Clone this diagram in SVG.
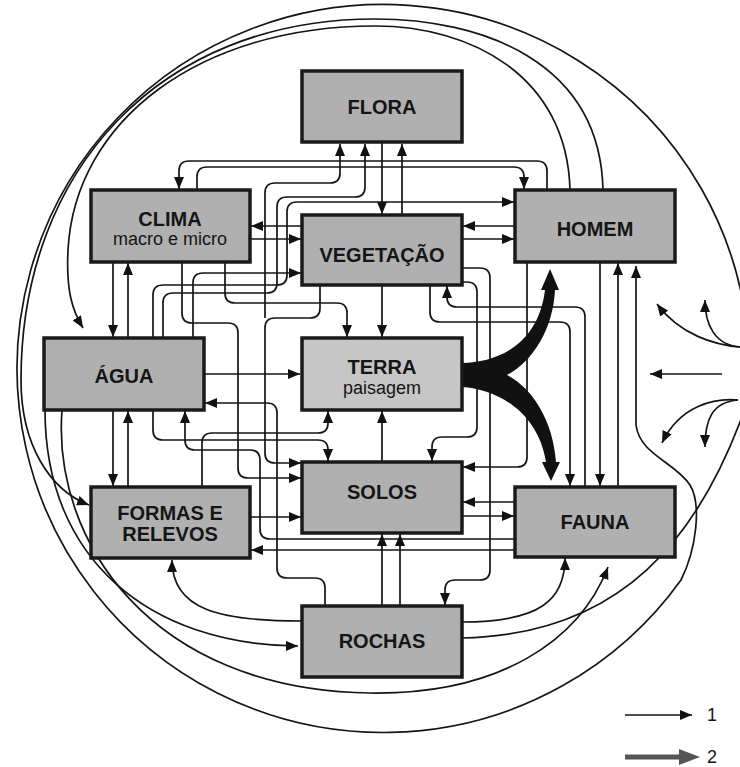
<svg xmlns="http://www.w3.org/2000/svg" width="740" height="767" viewBox="0 0 740 767">
<defs>
<marker id="a" viewBox="0 0 12 10" refX="12" refY="5" markerWidth="12" markerHeight="10" markerUnits="userSpaceOnUse" orient="auto"><path d="M0,0 L12,5 L0,10 z" fill="#111"/></marker>
</defs>
<style>
.box{fill:#b0b0b0;stroke:#1a1a1a;stroke-width:3.5}
.light{fill:#c6c6c6}
.t{font-family:"Liberation Sans",Arial,sans-serif;font-weight:bold;font-size:20px;fill:#151515;text-anchor:middle}
.s{font-family:"Liberation Sans",Arial,sans-serif;font-size:18px;fill:#151515;text-anchor:middle}
.c path{fill:none;stroke:#151515;stroke-width:1.7}
.c path.m{marker-end:url(#a)}
.c path.thick{fill:#111;stroke:none}
</style>
<rect width="740" height="767" fill="#fff"/>

<g id="connectors" class="c">
<!-- outer ring -->
<path d="M748,340 A366,364 0 1 0 681,580 C696,550 702,505 690,485 C675,462 640,455 636,425 V266" class="m"/>
<path d="M603,190 C600,60 480,19 375,19 C160,19 21,170 21,380 C21,445 50,490 89,505" class="m"/>
<path d="M570,190 C567,75 470,26 375,26 C200,26 75,120 68,250 C66,290 72,310 83,328" class="m"/>
<path d="M462,638 C620,635 700,540 748,400"/>
<!-- right side inward -->
<path d="M740,347 C715,345 680,335 657,304" class="m"/>
<path d="M740,347 C715,345 705,325 705,300" class="m"/>
<path d="M722,374 H650" class="m"/>
<path d="M738,400 C715,398 680,405 662,443" class="m"/>
<path d="M738,400 C712,402 705,420 705,447" class="m"/>
<!-- top -->
<path d="M382,143 V214" class="m"/>
<path d="M402,215 V144" class="m"/>
<path d="M547,190 V171 Q547,161 537,161 H189 Q179,161 179,171 V189" class="m"/>
<path d="M197,190 V177 Q197,167 207,167 H514 Q524,167 524,177 V189" class="m"/>
<path d="M265,318 V193 Q265,183 275,183 H330 Q340,183 340,173 V144" class="m"/>
<path d="M163,338 V303 Q163,293 173,293 H267 Q277,293 277,283 V207 Q277,197 287,197 H355 Q365,197 365,187 V144" class="m"/>
<path d="M153,338 V295 Q153,285 163,285 H277 Q287,285 287,275 V212 Q287,202 297,202 H514" class="m"/>
<path d="M302,226 H251" class="m"/>
<path d="M250,239 H301" class="m"/>
<path d="M515,226 H463" class="m"/>
<path d="M462,239 H514" class="m"/>
<path d="M193,338 V283 Q193,273 203,273 H301" class="m"/>
<!-- left column -->
<path d="M113,262 V337" class="m"/>
<path d="M128,338 V263" class="m"/>
<path d="M113,410 V486" class="m"/>
<path d="M128,487 V411" class="m"/>
<!-- middle -->
<path d="M182,262 V313 Q182,323 192,323 H228 Q238,323 238,333 V468 Q238,478 248,478 H301" class="m"/>
<path d="M225,262 V293 Q225,303 235,303 H337 Q347,303 347,313 V337" class="m"/>
<path d="M382,285 V337" class="m"/>
<path d="M320,285 V308 Q320,318 310,318 H275 Q265,318 265,328 V453 Q265,463 275,463 H301" class="m"/>
<path d="M204,374 H300" class="m"/>
<path d="M325,606 V588 Q325,578 315,578 H287 Q277,578 277,568 V413 Q277,403 267,403 H205" class="m"/>
<path d="M202,487 V443 Q202,433 212,433 H318 Q328,433 328,423 V411" class="m"/>
<path d="M153,410 V430 Q153,440 163,440 H318 Q328,440 328,450 V461" class="m"/>
<path d="M515,539 H270 Q260,539 260,529 V460 Q260,450 250,450 H195 Q185,450 185,440 V411" class="m"/>
<path d="M515,550 H251" class="m"/>
<path d="M250,517 H301" class="m"/>
<path d="M515,502 H463" class="m"/>
<path d="M462,516 H514" class="m"/>
<path d="M382,462 V411" class="m"/>
<path d="M382,606 V534" class="m"/>
<path d="M400,606 V534" class="m"/>
<!-- right middle -->
<path d="M462,268 H480 Q490,268 490,278 V570 Q490,580 480,580 H455 Q445,580 445,590 V605" class="m"/>
<path d="M462,282 H467 Q477,282 477,292 V427 Q477,437 467,437 H442 Q432,437 432,447 V461" class="m"/>
<path d="M430,285 V312 Q430,322 440,322 H560 Q570,322 570,332 V486" class="m"/>
<path d="M585,487 V317 Q585,307 575,307 H457 Q447,307 447,297 V286" class="m"/>
<path d="M600,262 V486" class="m"/>
<path d="M618,487 V263" class="m"/>
<path d="M527,262 V457 Q527,467 517,467 H463" class="m"/>
<!-- bottom -->
<path d="M302,621 C220,621 172,610 172,560" class="m"/>
<path d="M462,622 C540,622 565,600 565,558" class="m"/>
<path d="M45,410 C45,560 150,645 298,646" class="m"/>
<path d="M62,410 C52,540 150,690 370,693 C500,695 580,640 608,567" class="m"/>
<!-- thick arrows from TERRA -->
<path class="thick" d="M462,363 C498,362 538,345 545,290 L541,290 L550,269 L559,290 L555,290 C553,330 532,362 507,375 C532,388 553,420 556,462 L560,462 L551,481 L542,462 L546,462 C538,412 497,389 462,387 Z"/>
</g>

<g id="flora"><rect class="box" x="302" y="71" width="160" height="71"/><text class="t" x="382" y="114">FLORA</text></g>
<g id="clima"><rect class="box" x="91" y="190" width="159" height="72"/><text class="t" x="170" y="226">CLIMA</text><text class="s" x="170" y="245">macro e micro</text></g>
<g id="vegetacao"><rect class="box" x="302" y="215" width="160" height="70"/><text class="t" x="382" y="262">VEGETAÇÃO</text></g>
<g id="homem"><rect class="box" x="515" y="190" width="160" height="72"/><text class="t" x="595" y="236">HOMEM</text></g>
<g id="agua"><rect class="box" x="44" y="338" width="160" height="72"/><text class="t" x="124" y="383">ÁGUA</text></g>
<g id="terra"><rect class="box light" x="302" y="338" width="160" height="72"/><text class="t" x="382" y="374">TERRA</text><text class="s" x="382" y="394">paisagem</text></g>
<g id="solos"><rect class="box" x="302" y="462" width="160" height="71"/><text class="t" x="382" y="499">SOLOS</text></g>
<g id="formas"><rect class="box" x="91" y="487" width="159" height="71"/><text class="t" x="170" y="520">FORMAS E</text><text class="t" x="170" y="541">RELEVOS</text></g>
<g id="fauna"><rect class="box" x="515" y="487" width="160" height="70"/><text class="t" x="595" y="529">FAUNA</text></g>
<g id="rochas"><rect class="box" x="302" y="606" width="160" height="71"/><text class="t" x="382" y="648">ROCHAS</text></g>

<g id="legend">
<path d="M625,715 H692" fill="none" stroke="#151515" stroke-width="1.7" marker-end="url(#a)"/>
<text class="s" x="712" y="721">1</text>
<path d="M625,757 H682" fill="none" stroke="#555" stroke-width="5"/>
<polygon points="679,749 700,757 679,765" fill="#555"/>
<text class="s" x="712" y="763">2</text>
</g>
</svg>
